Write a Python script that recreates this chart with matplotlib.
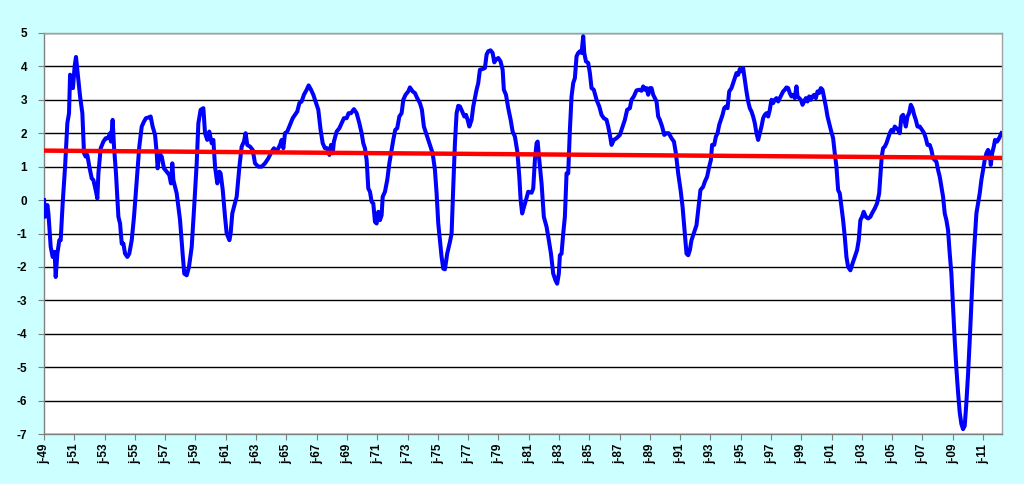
import matplotlib
matplotlib.use("Agg")
import matplotlib.pyplot as plt

# ---- data (decimal year, value) ----
years = [
 1949.00,1949.07,1949.22,1949.29,1949.44,1949.57,1949.70,1949.77,1949.88,1950.01,1950.10,1950.23,1950.39,1950.54,1950.65,1950.72,1950.85,1950.91,
 1951.02,1951.11,1951.22,1951.38,1951.53,1951.64,1951.75,1951.86,1951.99,1952.15,1952.26,1952.41,1952.52,1952.59,1952.74,1952.92,1953.07,1953.22,
 1953.36,1953.42,1953.53,1953.62,1953.75,1953.91,1954.02,1954.13,1954.24,1954.35,1954.50,1954.63,1954.79,1954.94,1955.12,1955.29,1955.45,1955.60,
 1955.73,1955.89,1956.04,1956.17,1956.33,1956.44,1956.50,1956.61,1956.77,1956.92,1957.10,1957.27,1957.38,1957.47,1957.54,1957.65,1957.76,1957.98,
 1958.15,1958.26,1958.42,1958.57,1958.75,1958.90,1959.08,1959.19,1959.34,1959.52,1959.63,1959.78,1959.91,
 1960.07,1960.18,1960.29,1960.44,1960.58,1960.66,1960.80,1960.95,1961.06,1961.24,1961.32,1961.43,1961.57,1961.72,1961.90,1962.05,1962.20,1962.31,
 1962.42,1962.60,1962.78,1962.93,1963.15,1963.37,1963.59,1963.81,1964.03,1964.18,1964.36,1964.58,1964.69,1964.80,1964.91,1965.06,1965.24,1965.42,
 1965.57,1965.72,1965.86,1966.01,1966.16,1966.34,1966.47,1966.63,1966.78,1966.96,1967.11,1967.26,1967.40,1967.55,1967.70,1967.84,1967.95,1968.06,
 1968.14,1968.32,1968.50,1968.65,1968.80,1968.98,1969.11,1969.27,1969.46,1969.64,1969.82,1969.97,1970.08,1970.19,1970.30,
 1970.41,1970.52,1970.63,1970.74,1970.85,1970.96,1971.07,1971.18,1971.29,1971.36,1971.51,1971.66,1971.80,1971.91,1972.06,1972.19,1972.32,1972.46,
 1972.61,1972.72,1972.87,1973.05,1973.16,1973.34,1973.49,1973.64,1973.82,1973.95,1974.08,1974.26,1974.48,1974.66,1974.81,1974.92,1975.03,1975.14,
 1975.25,1975.36,1975.47,1975.62,1975.80,1975.91,1976.02,1976.13,1976.24,1976.35,1976.46,1976.61,1976.75,1976.86,1976.97,1977.08,1977.23,1977.34,
 1977.45,1977.56,1977.67,1977.78,1977.96,1978.11,1978.22,1978.33,1978.48,1978.62,1978.73,1978.84,1978.99,1979.14,1979.28,1979.36,1979.50,1979.65,
 1979.81,1979.94,1980.09,1980.25,1980.38,1980.47,1980.57,1980.69,1980.82,1980.97,
 1981.19,1981.30,1981.41,1981.52,1981.59,1981.70,1981.85,1982.00,1982.18,1982.33,1982.47,1982.62,1982.77,1982.88,1982.99,1983.06,1983.17,1983.28,
 1983.39,1983.50,1983.61,1983.72,1983.83,1983.94,1984.05,1984.16,1984.27,1984.38,1984.49,1984.60,1984.67,1984.78,1984.93,1985.04,1985.15,1985.30,
 1985.48,1985.66,1985.81,1985.96,1986.14,1986.25,1986.36,1986.47,1986.62,1986.80,1987.02,1987.20,1987.35,1987.50,1987.68,1987.79,1987.94,1988.12,
 1988.30,1988.45,1988.56,1988.67,1988.78,1988.89,1989.00,1989.11,1989.22,1989.33,1989.44,1989.55,1989.66,1989.81,1989.95,1990.10,1990.25,1990.43,
 1990.59,1990.72,1990.87,1991.03,1991.16,1991.31,1991.42,
 1991.53,1991.64,1991.75,1991.90,1992.08,1992.19,1992.34,1992.52,1992.63,1992.78,1992.92,1993.03,1993.11,1993.25,1993.36,1993.47,1993.58,1993.69,
 1993.80,1993.91,1994.02,1994.13,1994.24,1994.39,1994.50,1994.61,1994.72,1994.83,1994.94,1995.05,1995.16,1995.27,1995.38,1995.49,1995.60,1995.71,
 1995.82,1995.93,1996.04,1996.15,1996.26,1996.37,1996.48,1996.59,1996.70,1996.81,1996.92,1997.03,1997.14,1997.25,1997.36,1997.47,1997.58,1997.69,
 1997.80,1997.91,1998.02,1998.13,1998.24,1998.35,1998.46,1998.57,1998.68,1998.75,1998.86,1998.97,1999.08,1999.19,1999.30,1999.41,1999.52,1999.63,
 1999.74,1999.85,1999.96,2000.07,2000.18,2000.29,2000.40,2000.51,2000.62,2000.73,2000.84,2000.95,2001.10,2001.21,2001.32,2001.43,2001.54,2001.65,
 2001.76,2001.87,2001.98,2002.09,
 2002.24,2002.38,2002.53,2002.68,2002.79,2002.90,2003.01,2003.12,2003.26,2003.41,2003.56,2003.70,2003.85,2004.00,2004.14,2004.22,2004.31,2004.40,
 2004.51,2004.62,2004.73,2004.84,2004.95,2005.06,2005.17,2005.28,2005.39,2005.50,2005.61,2005.72,2005.83,2005.90,2006.01,2006.12,2006.23,2006.34,
 2006.45,2006.56,2006.67,2006.82,2006.97,2007.11,2007.22,2007.33,2007.48,2007.59,2007.70,2007.81,2007.92,2008.03,2008.14,2008.25,2008.36,2008.47,
 2008.58,2008.69,2008.80,2008.91,2009.02,2009.13,2009.24,2009.35,2009.46,2009.57,2009.68,2009.79,2009.90,2010.01,2010.12,2010.23,2010.34,2010.45,
 2010.56,2010.67,2010.78,2010.89,2011.00,2011.11,2011.22,2011.33,2011.44,2011.51,2011.60,2011.71,2011.79,2011.93,2012.06,2012.21,
]
values = [
 0.0,-0.5,-0.15,-0.4,-1.4,-1.7,-1.55,-2.3,-1.6,-1.2,-1.2,-0.1,1.0,2.3,2.6,3.75,3.65,3.35,
 4.0,4.28,3.8,3.1,2.6,1.4,1.3,1.35,1.0,0.65,0.6,0.3,0.05,0.8,1.55,1.75,1.85,1.85,
 2.0,1.75,2.4,1.6,0.8,-0.5,-0.7,-1.3,-1.3,-1.6,-1.7,-1.6,-1.2,-0.5,0.6,1.6,2.2,2.35,
 2.45,2.47,2.5,2.2,1.95,1.4,0.95,1.4,1.3,0.95,0.85,0.75,0.5,1.1,0.6,0.4,0.2,-0.6,
 -1.6,-2.2,-2.25,-2.0,-1.4,-0.3,1.1,2.3,2.7,2.75,2.0,1.8,2.05,
 1.7,1.8,1.0,0.5,0.85,0.8,0.3,-0.5,-1.0,-1.2,-1.0,-0.4,-0.15,0.1,1.0,1.6,1.75,2.0,
 1.65,1.6,1.5,1.1,1.0,1.0,1.1,1.25,1.45,1.55,1.45,1.65,1.8,1.55,2.0,2.05,2.25,2.45,
 2.55,2.65,2.9,2.95,3.15,3.3,3.43,3.3,3.15,2.9,2.7,2.1,1.7,1.55,1.55,1.35,1.65,1.4,
 1.75,2.05,2.15,2.3,2.45,2.45,2.6,2.6,2.72,2.6,2.3,2.0,1.7,1.55,1.2,
 0.35,0.25,-0.05,-0.1,-0.65,-0.7,-0.35,-0.6,-0.45,0.1,0.25,0.6,1.1,1.4,1.8,2.1,2.15,2.5,
 2.6,3.0,3.15,3.25,3.37,3.25,3.2,3.05,2.9,2.7,2.2,1.95,1.65,1.4,0.9,0.2,-0.7,-1.2,
 -1.7,-2.05,-2.07,-1.6,-1.25,-1.0,0.4,1.7,2.6,2.82,2.8,2.65,2.5,2.55,2.4,2.2,2.4,2.8,
 3.05,3.3,3.5,3.9,3.92,3.95,4.35,4.45,4.48,4.4,4.12,4.2,4.25,4.15,3.9,3.3,3.15,2.75,
 2.4,2.05,1.9,1.45,0.7,0.0,-0.4,-0.2,0.0,0.25,
 0.22,0.35,1.2,1.7,1.75,1.2,0.5,-0.5,-0.8,-1.2,-1.6,-2.2,-2.4,-2.5,-2.2,-1.65,-1.6,-1.0,
 -0.5,0.8,0.8,2.1,3.1,3.5,3.65,4.3,4.4,4.45,4.4,4.9,4.4,4.15,4.1,3.8,3.35,3.3,
 3.0,2.8,2.55,2.45,2.4,2.2,1.95,1.65,1.8,1.85,1.95,2.2,2.4,2.7,2.75,3.0,3.1,3.28,
 3.3,3.27,3.4,3.3,3.35,3.15,3.35,3.35,3.15,3.05,2.95,2.5,2.4,2.2,1.95,2.0,2.0,1.85,
 1.75,1.4,0.8,0.3,-0.2,-1.0,-1.6,
 -1.65,-1.5,-1.2,-1.0,-0.75,-0.3,0.3,0.4,0.55,0.7,1.0,1.2,1.65,1.65,1.9,2.0,2.25,2.4,
 2.55,2.75,2.8,2.75,3.25,3.35,3.5,3.65,3.8,3.75,3.92,3.85,3.95,3.6,3.25,2.95,2.75,2.65,
 2.5,2.3,2.0,1.8,2.0,2.2,2.45,2.55,2.6,2.5,2.7,3.0,2.9,3.0,3.05,2.95,3.05,3.15,
 3.25,3.3,3.37,3.35,3.2,3.1,3.15,3.05,3.4,3.1,3.05,3.0,2.85,2.95,3.05,2.95,3.1,3.0,
 3.1,3.15,3.05,3.25,3.2,3.35,3.3,3.05,2.8,2.5,2.3,2.1,1.85,1.4,1.0,0.3,0.2,-0.2,
 -0.6,-1.1,-1.7,-2.0,
 -2.1,-1.9,-1.7,-1.5,-1.2,-0.6,-0.5,-0.35,-0.5,-0.55,-0.5,-0.37,-0.25,-0.1,0.2,0.7,1.3,1.55,
 1.6,1.7,1.85,2.0,2.1,2.05,2.2,2.15,2.1,2.0,2.5,2.55,2.35,2.2,2.5,2.6,2.85,2.75,
 2.55,2.4,2.2,2.2,2.1,2.0,1.85,1.65,1.65,1.5,1.25,1.2,1.15,0.9,0.7,0.4,0.1,-0.4,
 -0.6,-0.9,-1.6,-2.2,-3.2,-4.2,-5.05,-5.75,-6.35,-6.7,-6.85,-6.75,-6.05,-5.2,-4.2,-3.1,-2.0,-1.2,
 -0.4,-0.1,0.2,0.6,0.9,1.2,1.4,1.5,1.4,1.05,1.4,1.6,1.8,1.75,1.85,2.0,
]

trend_years = [1949.0, 2012.25]
trend_values = [1.48, 1.26]

tick_years = list(range(1949, 2012, 2))
tick_labels = ["j-%02d" % (y % 100) for y in tick_years]
y_ticks = list(range(-7, 6))

BG = "#CCFFFF"
fig = plt.figure(figsize=(10.24, 4.84), dpi=100, facecolor=BG)
ax = fig.add_axes([0.043, 0.103, 0.9355, 0.829])
ax.set_facecolor("white")

for v in y_ticks:
    ax.axhline(v, color="black", lw=1.0, zorder=1)

ax.plot(years, values, color="#0000FF", lw=2.9, zorder=3, solid_joinstyle="round")
ax.plot(trend_years, trend_values, color="#FF0000", lw=3.2, zorder=4)

ax.set_xlim(1949.0, 2012.25)
ax.set_ylim(-7, 5)
ax.set_yticks(y_ticks)
ax.set_yticklabels([str(v) for v in y_ticks], fontfamily="Liberation Sans",
                   fontweight="bold", fontsize=8.5)
ax.set_xticks(tick_years)
ax.set_xticklabels(tick_labels, rotation=90, fontfamily="Liberation Sans",
                   fontweight="bold", fontsize=8.5)
ax.tick_params(axis="both", direction="out", length=4, width=0.8, color="#808080")
ax.tick_params(axis="y", pad=8)
ax.tick_params(axis="x", pad=3)

for side in ["left", "bottom"]:
    ax.spines[side].set_color("#808080")
    ax.spines[side].set_linewidth(1.0)
for side in ["right", "top"]:
    ax.spines[side].set_color("#A0A0A0")
    ax.spines[side].set_linewidth(1.0)

fig.savefig("out.png", dpi=100, facecolor=BG)
